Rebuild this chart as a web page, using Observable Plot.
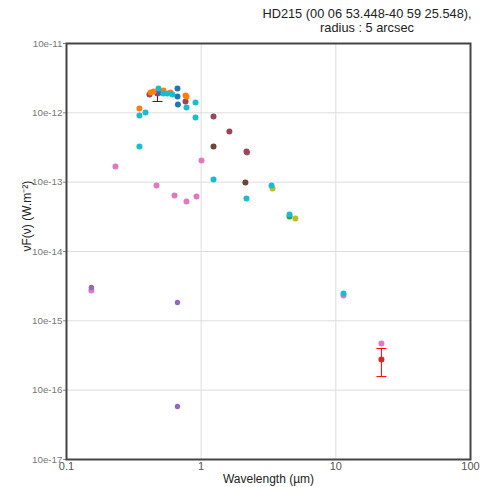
<!DOCTYPE html>
<html>
<head>
<meta charset="utf-8">
<script src="https://cdn.jsdelivr.net/npm/d3@7"></script>
<script src="https://cdn.jsdelivr.net/npm/@observablehq/plot@0.6"></script>
<style>
  html, body { margin: 0; padding: 0; background: #fff; }
  #wrap { position: relative; width: 481px; height: 487px; font-family: "Liberation Sans", Arial, sans-serif; }
  #title { position: absolute; left: 252px; width: 230px; top: 7px; text-align: center; font-size: 12.8px; line-height: 14px; color: #222; }
  #chart { position: absolute; left: 0; top: 0; }
</style>
</head>
<body>
<div id="wrap">
  <div id="chart"></div>
  <div id="title">HD215 (00 06 53.448-40 59 25.548),<br>radius : 5 arcsec</div>
</div>
<script>
// ---- data (wavelength in µm, nuFnu in W/m^2) ----
const seriesNames = ["orange", "cyan", "blue", "maroon", "rose", "brown", "pink", "purple", "olive", "green", "red"];
const seriesColors = ["#ff7f0e", "#17becf", "#1f77b4", "#9a4658", "#b85a7a", "#6a4634", "#e377c2", "#9467bd", "#bcbd22", "#2ca02c", "#d62728"];

const orangeX = [0.348, 0.421, 0.443, 0.525, 0.592, 0.765, 0.778];
const orangeY = [1.15e-12, 1.96e-12, 2.03e-12, 2.10e-12, 1.96e-12, 1.78e-12, 1.72e-12];

const cyanX = [0.348, 0.386, 0.348, 0.482, 0.525, 0.562, 0.612, 0.778, 0.908, 0.908, 1.235, 2.17, 3.33, 4.53, 11.4];
const cyanY = [9.16e-13, 1.01e-12, 3.27e-13, 2.24e-12, 1.90e-12, 1.90e-12, 1.84e-12, 1.19e-12, 1.41e-12, 8.57e-13, 1.09e-13, 5.81e-14, 8.95e-14, 3.42e-14, 2.48e-15];

const blueX = [0.499, 0.667, 0.667, 0.672];
const blueY = [1.96e-12, 2.24e-12, 1.72e-12, 1.32e-12];

const maroonX = [0.413, 0.474, 0.765, 1.235, 1.62, 2.17];
const maroonY = [1.84e-12, 1.90e-12, 1.46e-12, 8.86e-13, 5.38e-13, 2.77e-13];

const roseX = [2.19];
const roseY = [2.68e-13];

const brownX = [1.235, 2.13];
const brownY = [3.27e-13, 9.89e-14];

const pinkX = [0.231, 0.466, 0.634, 0.778, 0.923, 1.005, 0.153, 11.4, 21.8];
const pinkY = [1.68e-13, 8.95e-14, 6.42e-14, 5.26e-14, 6.21e-14, 2.05e-13, 2.74e-15, 2.32e-15, 4.71e-16];

const purpleX = [0.153, 0.667, 0.667];
const purpleY = [3.03e-15, 1.84e-15, 5.81e-17];

const oliveX = [3.39, 5.01];
const oliveY = [8.10e-14, 2.99e-14];

const greenX = [4.53];
const greenY = [3.20e-14];

const redX = [21.8];
const redY = [2.77e-16];

// error bars
const errSeries = ["maroon", "red"];
const errX = [0.474, 21.8];
const errLow = [1.46e-12, 1.57e-16];
const errHigh = [2.10e-12, 3.99e-16];

const yTicks = [1e-11, 1e-12, 1e-13, 1e-14, 1e-15, 1e-16, 1e-17];
const yTickLabels = ["10e-11", "10e-12", "10e-13", "10e-14", "10e-15", "10e-16", "10e-17"];
const xTicks = [0.1, 1, 10, 100];
const xTickLabels = ["0.1", "1", "10", "100"];

// ---- build table ----
const seriesData = {
  orange: [orangeX, orangeY], cyan: [cyanX, cyanY], blue: [blueX, blueY],
  maroon: [maroonX, maroonY], rose: [roseX, roseY], brown: [brownX, brownY],
  pink: [pinkX, pinkY], purple: [purpleX, purpleY], olive: [oliveX, oliveY],
  green: [greenX, greenY], red: [redX, redY]
};
// draw order (later on top)
const drawOrder = ["purple", "pink", "green", "olive", "brown", "rose", "maroon", "red", "blue", "orange", "cyan"];
const points = [];
for (const s of drawOrder) {
  const [xs, ys] = seriesData[s];
  xs.forEach((x, i) => points.push({series: s, x, y: ys[i]}));
}
const errs = errX.map((x, i) => ({series: errSeries[i], x, lo: errLow[i], hi: errHigh[i]}));

const capSymbol = {
  draw(ctx, size) {
    const r = Math.sqrt(size / Math.PI);
    ctx.moveTo(-r, 0);
    ctx.lineTo(r, 0);
  }
};

const xLabel = d => xTickLabels[xTicks.findIndex(t => Math.abs(Math.log10(t) - Math.log10(d)) < 1e-6)];
const yLabel = d => yTickLabels[yTicks.findIndex(t => Math.abs(Math.log10(t) - Math.log10(d)) < 1e-6)];

const chart = Plot.plot({
  width: 481,
  height: 487,
  marginLeft: 66,
  marginRight: 11,
  marginTop: 43,
  marginBottom: 28,
  style: {fontFamily: "Liberation Sans, Arial, sans-serif", background: "transparent", overflow: "hidden"},
  x: {type: "log", domain: [0.1, 100], label: null},
  y: {type: "log", domain: [1e-17, 1e-11], label: null},
  color: {domain: seriesNames, range: seriesColors},
  marks: [
    Plot.gridX(xTicks.slice(1, 3), {stroke: "#dcdcdc", strokeOpacity: 1}),
    Plot.gridY(yTicks.slice(1, 6), {stroke: "#dcdcdc", strokeOpacity: 1}),
    Plot.axisY(yTicks, {tickFormat: yLabel, tickSize: 3, tickPadding: 1, stroke: "#888", fill: "#777", fontSize: 9.8}),
    Plot.axisX(xTicks, {tickFormat: xLabel, tickSize: 0, tickPadding: 3, fill: "#555", fontSize: 11}),
    Plot.ruleX(errs, {x: "x", y1: "lo", y2: "hi", stroke: d => d.series, strokeWidth: 1}),
    Plot.dot(errs, {x: "x", y: "lo", symbol: capSymbol, r: 5, stroke: d => d.series, strokeWidth: 1}),
    Plot.dot(errs, {x: "x", y: "hi", symbol: capSymbol, r: 5, stroke: d => d.series, strokeWidth: 1}),
    Plot.dot(points, {x: "x", y: "y", fill: "series", r: d => d.series === "purple" ? 2.6 : 3.2, stroke: "none"}),
    Plot.frame({stroke: "#444", strokeWidth: 2}),
    Plot.text(["Wavelength (µm)"], {frameAnchor: "bottom", dy: 23, fontSize: 12, fill: "#222"}),
    Plot.text(["νF(ν) (W.m⁻²)"], {frameAnchor: "left", dx: -39, rotate: -90, fontSize: 12, fill: "#222"})
  ]
});
document.getElementById("chart").appendChild(chart);
</script>
</body>
</html>
